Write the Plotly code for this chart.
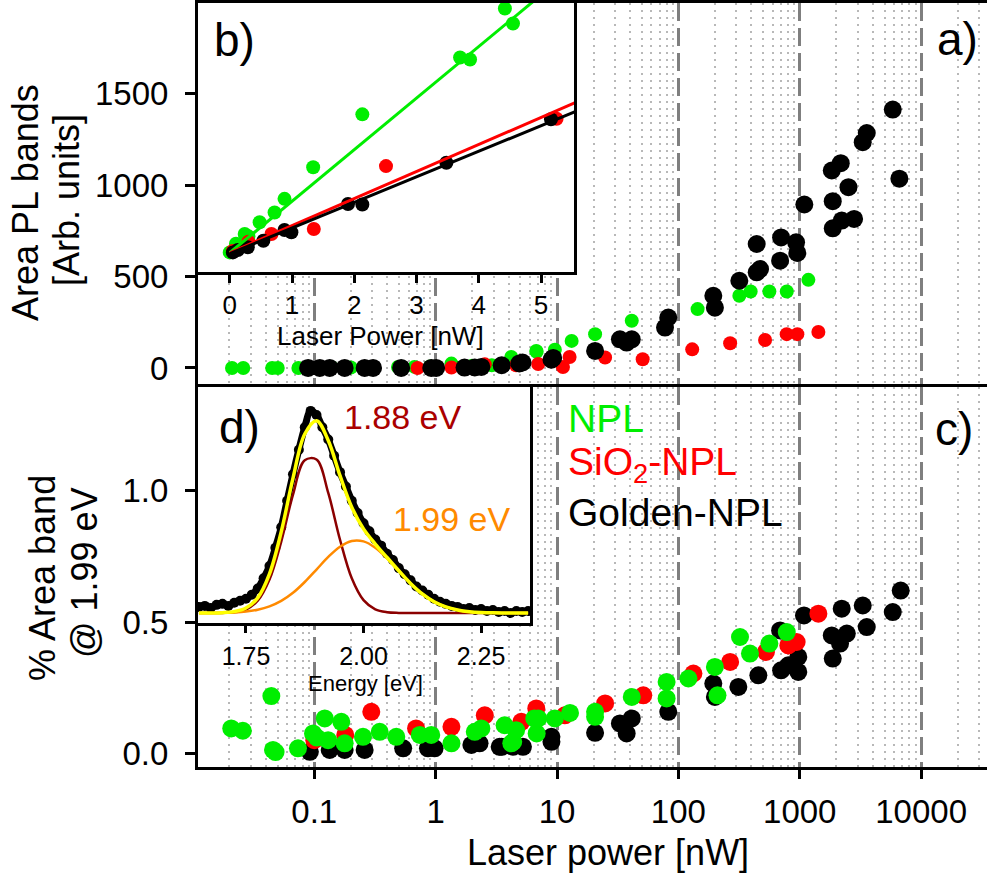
import plotly.graph_objects as go

# ---------------- data ----------------
# Panel a) Area PL bands vs laser power (log x)
a_npl_x = [0.021, 0.026, 0.045, 0.05, 0.074, 0.11, 0.14, 0.2, 0.3, 0.49, 0.67, 0.9, 1.35, 2.0, 2.9,
           4.2, 6.75, 6.8, 9.6, 13.2, 20.6, 41.3, 144, 318, 394, 562, 782, 1178]
a_npl_y = [0, 0, 0, 0, 0, 2, 2, 3, 3, 5, 6, 8, 24, 12, 15,
           60, 93, 89, 100, 148, 185, 258, 322, 395, 418, 418, 418, 482]
a_sio_x = [0.71, 1.35, 2.54, 4.6, 7.0, 11.2, 12.7, 24.9, 50.8, 130, 267, 518, 781, 956, 1424]
a_sio_y = [0, 3, 20, 15, 22, 5, 60, 57, 48, 102, 135, 153, 185, 185, 197]
a_gold_x = [0.089, 0.111, 0.134, 0.178, 0.26, 0.305, 0.52, 0.92, 1.01, 1.73, 2.1, 2.38, 3.5, 4.9, 5.2,
            9.0, 9.3, 20.6, 33, 37.5, 41.3, 77.6, 82.6, 194, 200, 318, 442, 471, 442, 689, 702, 933,
            955, 1091, 1836, 2178, 1871, 2520, 1871, 2218, 2805, 3305, 3567, 5840, 6620]
a_gold_y = [0, 0, 0, 0, 0, 0, 0, 0, 0, 2, 3, 6, 15, 25, 30,
            45, 55, 93, 157, 139, 157, 221, 276, 395, 330, 477, 523, 541, 678, 587, 714, 687,
            629, 894, 1080, 1120, 912, 989, 764, 806, 815, 1235, 1285, 1413, 1035]

# Panel c) % area of band @ 1.99 eV vs laser power
c_npl_x = [0.0207, 0.0258, 0.0443, 0.0457, 0.048, 0.0734, 0.0977, 0.105, 0.122, 0.13, 0.167, 0.178,
           0.252, 0.346, 0.474, 0.74, 0.92, 1.35, 2.1, 2.38, 3.7, 4.2, 4.36, 4.6, 6.5, 6.8, 7.0, 9.6,
           12.8, 20.6, 20.6, 41.3, 80, 80, 121, 200, 210, 322, 389, 562, 782]
c_npl_y = [0.095, 0.086, 0.218, 0.013, 0.005, 0.019, 0.076, 0.06, 0.133, 0.05, 0.12, 0.038,
           0.063, 0.082, 0.063, 0.07, 0.07, 0.038, 0.082, 0.095, 0.107, 0.038, 0.044, 0.088, 0.133,
           0.076, 0.133, 0.133, 0.154, 0.139, 0.158, 0.215, 0.272, 0.209, 0.285, 0.329, 0.221,
           0.443, 0.38, 0.418, 0.462]
c_sio_x = [0.1, 0.18, 0.295, 0.69, 1.35, 2.54, 5.08, 6.75, 11.6, 24.9, 51.4, 133, 267, 527, 806,
           943, 1424]
c_sio_y = [0.05, 0.07, 0.158, 0.095, 0.101, 0.145, 0.12, 0.171, 0.145, 0.19, 0.221, 0.304, 0.348,
           0.386, 0.411, 0.424, 0.532]
c_gold_x = [0.092, 0.134, 0.178, 0.26, 0.54, 0.865, 0.98, 1.97, 2.3, 3.37, 3.5, 4.33, 5.24, 9.0,
            9.0, 20.6, 33, 37.5, 41.3, 82.6, 194, 200, 312, 456, 689, 702, 806, 973, 973, 1084,
            1836, 1871, 2148, 2218, 2443, 3305, 3567, 5840, 6790]
c_gold_y = [0.006, 0.013, 0.013, 0.013, 0.019, 0.019, 0.019, 0.032, 0.038, 0.025, 0.025, 0.025,
            0.025, 0.044, 0.063, 0.078, 0.114, 0.076, 0.133, 0.158, 0.266, 0.215, 0.253, 0.297,
            0.468, 0.316, 0.335, 0.367, 0.31, 0.525, 0.449, 0.361, 0.418, 0.551, 0.456, 0.563,
            0.481, 0.538, 0.62]

# Inset b) linear low-power region
b_npl_x = [0.0, 0.1, 0.24, 0.3, 0.48, 0.72, 0.88, 1.34, 2.13, 3.70, 3.86, 4.42, 4.55]
b_npl_y = [632, 680, 733, 720, 797, 850, 925, 1098, 1387, 1698, 1687, 1966, 1884]
b_sio_x = [0.05, 0.3, 0.67, 1.35, 2.51, 5.25]
b_sio_y = [640, 690, 733, 760, 1104, 1363]
b_gold_x = [0.05, 0.13, 0.29, 0.54, 0.88, 0.99, 1.90, 2.13, 3.48, 5.16]
b_gold_y = [632, 645, 660, 696, 755, 742, 897, 894, 1122, 1360]
b_fit_x = [0.0, 5.6]
b_fit_npl = [630, 2209]
b_fit_sio = [630, 1459]
b_fit_gold = [625, 1409]

# Inset d) PL spectrum and its two-band fit (normalised intensity)
d_spec_e = [1.6500, 1.6625, 1.6750, 1.6875, 1.7000, 1.7125, 1.7250, 1.7375, 1.7500, 1.7625,
            1.7750, 1.7875, 1.8000, 1.8125, 1.8250, 1.8375, 1.8500, 1.8625, 1.8750, 1.8875,
            1.9000, 1.9125, 1.9250, 1.9375, 1.9500, 1.9625, 1.9750, 1.9875, 2.0000, 2.0125,
            2.0250, 2.0375, 2.0500, 2.0625, 2.0750, 2.0875, 2.1000, 2.1125, 2.1250, 2.1375,
            2.1500, 2.1625, 2.1750, 2.1875, 2.2000, 2.2125, 2.2250, 2.2375, 2.2500, 2.2625,
            2.2750, 2.2875, 2.3000, 2.3125, 2.3250, 2.3375, 2.3500]
d_spec_i = [0.03, 0.035, 0.025, 0.04, 0.045, 0.035, 0.05, 0.06, 0.07, 0.09,
            0.12, 0.17, 0.23, 0.32, 0.42, 0.55, 0.68, 0.80, 0.91, 0.99,
            0.97, 0.91, 0.85, 0.77, 0.69, 0.62, 0.55, 0.49, 0.44, 0.40,
            0.36, 0.33, 0.29, 0.26, 0.22, 0.19, 0.16, 0.13, 0.11, 0.09,
            0.07, 0.055, 0.045, 0.035, 0.03, 0.02, 0.025, 0.015, 0.02, 0.01,
            0.015, 0.005, 0.01, 0.0, 0.01, 0.005, 0.01]
d_fit_e = [1.650, 1.675, 1.700, 1.725, 1.750, 1.775, 1.800, 1.825, 1.850, 1.875, 1.900, 1.925,
           1.950, 1.975, 2.000, 2.025, 2.050, 2.075, 2.100, 2.125, 2.150, 2.175, 2.200, 2.225,
           2.250, 2.275, 2.300, 2.325, 2.350]
d_band188 = [0.0, 0.0001, 0.0006, 0.0038, 0.0172, 0.060, 0.164, 0.350, 0.580, 0.748, 0.752, 0.588,
             0.359, 0.170, 0.063, 0.0181, 0.0040, 0.0007, 0.0001, 0, 0, 0, 0, 0,
             0, 0, 0, 0, 0]
d_band199 = [0.0001, 0.0004, 0.0012, 0.0032, 0.0075, 0.0163, 0.0325, 0.0592, 0.099, 0.152, 0.213,
             0.275, 0.325, 0.353, 0.351, 0.320, 0.268, 0.206, 0.145, 0.0935, 0.0554, 0.030, 0.015,
             0.0068, 0.0029, 0.0011, 0.0004, 0.0001, 0.0]
d_fit_sum = [0.0001, 0.0005, 0.0018, 0.0069, 0.0242, 0.0743, 0.1915, 0.398, 0.661, 0.877, 0.942,
             0.845, 0.673, 0.518, 0.412, 0.338, 0.272, 0.207, 0.145, 0.0935, 0.0554, 0.030, 0.015,
             0.0068, 0.0029, 0.0011, 0.0004, 0.0001, 0.0]

x_major = [0.1, 1, 10, 100, 1000, 10000]
x_major_text = ["0.1", "1", "10", "100", "1000", "10000"]
ya_ticks = [0, 500, 1000, 1500]
yc_ticks = [0.0, 0.5, 1.0]
yc_text = ["0.0", "0.5", "1.0"]
b_ticks = [0, 1, 2, 3, 4, 5]
d_ticks = [1.75, 2.00, 2.25]
d_text = ["1.75", "2.00", "2.25"]

# ---------------- layout geometry ----------------
W, H = 987, 880
ML, MR, MT, MB = 198, 0, 3, 113
PW, PH = W - ML - MR, H - MT - MB


def px2x(px):
    return (px - ML) / PW


def py2y(py):
    return (H - MB - py) / PH


FONT = "Liberation Sans, Arial, sans-serif"
GREEN, RED, BLACK = "#00ee00", "#ff0000", "#000000"

y_split = py2y(387)
xb1 = px2x(574)
yb0 = py2y(272)
xd1 = px2x(530)
yd0 = py2y(623)

ya_range = [-104, 1996]
# inset b shares the value scale of panel a
yb_lo = ya_range[0] + (yb0 - y_split) / (1 - y_split) * (ya_range[1] - ya_range[0])
yb_range = [yb_lo, ya_range[1]]

minor_vals = [m * 10 ** e for e in range(-2, 5) for m in range(2, 10)]

fig = go.Figure()


def pts(x, y, color, size, xa, ya):
    fig.add_trace(go.Scatter(x=x, y=y, mode="markers", xaxis=xa, yaxis=ya,
                             marker=dict(color=color, size=size, line=dict(width=0)),
                             showlegend=False, hoverinfo="skip"))


# panel a
pts(a_npl_x, a_npl_y, GREEN, 14, "x", "y")
pts(a_sio_x, a_sio_y, RED, 14, "x", "y")
pts(a_gold_x, a_gold_y, BLACK, 18, "x", "y")
# panel c
pts(c_gold_x, c_gold_y, BLACK, 18, "x2", "y2")
pts(c_sio_x, c_sio_y, RED, 18, "x2", "y2")
pts(c_npl_x, c_npl_y, GREEN, 18, "x2", "y2")
# inset b
pts(b_npl_x, b_npl_y, GREEN, 14, "x3", "y3")
pts(b_sio_x, b_sio_y, RED, 14, "x3", "y3")
pts(b_gold_x, b_gold_y, BLACK, 14, "x3", "y3")
for fy, col in [(b_fit_npl, GREEN), (b_fit_sio, RED), (b_fit_gold, BLACK)]:
    fig.add_trace(go.Scatter(x=b_fit_x, y=fy, mode="lines", xaxis="x3", yaxis="y3",
                             line=dict(color=col, width=3), showlegend=False, hoverinfo="skip"))
# inset d
fig.add_trace(go.Scatter(x=d_spec_e, y=d_spec_i, mode="lines+markers", xaxis="x4", yaxis="y4",
                         line=dict(color=BLACK, width=7, shape="spline"),
                         marker=dict(color=BLACK, size=10), showlegend=False, hoverinfo="skip"))
fig.add_trace(go.Scatter(x=d_fit_e, y=d_band188, mode="lines", xaxis="x4", yaxis="y4",
                         line=dict(color="#8b0000", width=2.5, shape="spline"),
                         showlegend=False, hoverinfo="skip"))
fig.add_trace(go.Scatter(x=d_fit_e, y=d_band199, mode="lines", xaxis="x4", yaxis="y4",
                         line=dict(color="#ff8a00", width=2.5, shape="spline"),
                         showlegend=False, hoverinfo="skip"))
fig.add_trace(go.Scatter(x=d_fit_e, y=d_fit_sum, mode="lines", xaxis="x4", yaxis="y4",
                         line=dict(color="#ffff00", width=3.5, shape="spline"),
                         showlegend=False, hoverinfo="skip"))

frame = dict(showline=True, linecolor="black", linewidth=3, zeroline=False)
tickstyle = dict(ticks="outside", tickcolor="black", tickwidth=3)

xlog = dict(type="log", range=[-1.958, 4.543], tickvals=x_major, ticktext=x_major_text,
            showgrid=True, gridcolor="#7f7f7f", gridwidth=2.5, griddash="18px,7px",
            minor=dict(tickvals=minor_vals, showgrid=True, gridcolor="#b8b8b8", gridwidth=2,
                       griddash="2px,5px", ticks=""),
            **frame)

fig.update_layout(
    width=W, height=H,
    margin=dict(l=ML, r=MR, t=MT, b=MB),
    paper_bgcolor="white", plot_bgcolor="white",
    font=dict(family=FONT, color="black", size=33),
    showlegend=False,
    # panel a x axis: only its top frame line is drawn (bottom edge comes from panel c)
    xaxis=dict(domain=[0, 1], anchor="y", side="top", showticklabels=False, ticks="",
               mirror=False, **xlog),
    xaxis2=dict(domain=[0, 1], anchor="y2", showticklabels=True, ticklen=9, mirror=True,
                tickfont=dict(size=33), ticklabelstandoff=4, **tickstyle, **xlog),
    yaxis=dict(domain=[y_split, 1], anchor="x", range=ya_range, tickvals=ya_ticks,
               showgrid=False, ticklen=10, tickfont=dict(size=33), ticklabelstandoff=10,
               **tickstyle, **frame),
    yaxis2=dict(domain=[0, y_split], anchor="x2", range=[-0.052, 1.395], tickvals=yc_ticks,
                ticktext=yc_text, showgrid=False, ticklen=10, tickfont=dict(size=33),
                ticklabelstandoff=10, **tickstyle, **frame),
    xaxis3=dict(domain=[0, xb1], anchor="y3", range=[-0.51, 5.53], tickvals=b_ticks,
                showgrid=False, mirror=True, ticklen=8, tickfont=dict(size=26),
                ticklabelstandoff=0, **tickstyle, **frame),
    yaxis3=dict(domain=[yb0, 1], anchor="x3", range=yb_range, showgrid=False,
                showticklabels=False, ticks="", mirror=True, **frame),
    xaxis4=dict(domain=[0, xd1], anchor="y4", range=[1.648, 2.354], tickvals=d_ticks,
                ticktext=d_text, showgrid=False, mirror=True, ticklen=7,
                tickfont=dict(size=25), ticklabelstandoff=2, **tickstyle, **frame),
    yaxis4=dict(domain=[yd0, y_split], anchor="x4", range=[-0.0488, 1.107], showgrid=False,
                showticklabels=False, ticks="", mirror=True, **frame),
)


def label(text, px, py, size, color="black", angle=0, xanchor="center", yanchor="middle"):
    fig.add_annotation(text=text, x=px2x(px), y=py2y(py), xref="paper", yref="paper",
                       showarrow=False, textangle=angle, xanchor=xanchor, yanchor=yanchor,
                       font=dict(family=FONT, size=size, color=color))


# axis titles
label("Area PL bands", 25, 203, 36, angle=-90)
label("[Arb. units]", 66, 200, 36, angle=-90)
label("% Area band", 42, 578, 36, angle=-90)
label("@ 1.99 eV", 84, 573, 36, angle=-90)
label("Laser power [nW]", 608, 853, 36)
label("Laser Power [nW]", 380, 336, 26)
label("Energy [eV]", 365, 683, 22)
# panel letters
label("a)", 957, 39, 46)
label("b)", 234, 40, 46)
label("c)", 954, 429, 46)
label("d)", 239, 427, 46)
# band labels
label("1.88 eV", 403, 417, 34, color="#aa0000")
label("1.99 eV", 452, 519, 34, color="#ff8a00")
# sample labels
label("NPL", 566, 418, 39, color=GREEN, xanchor="left")
label("SiO<sub>2</sub>-NPL", 566, 464, 39, color=RED, xanchor="left")
label("Golden-NPL", 566, 512, 39, color=BLACK, xanchor="left")

fig.write_html("out.html")
